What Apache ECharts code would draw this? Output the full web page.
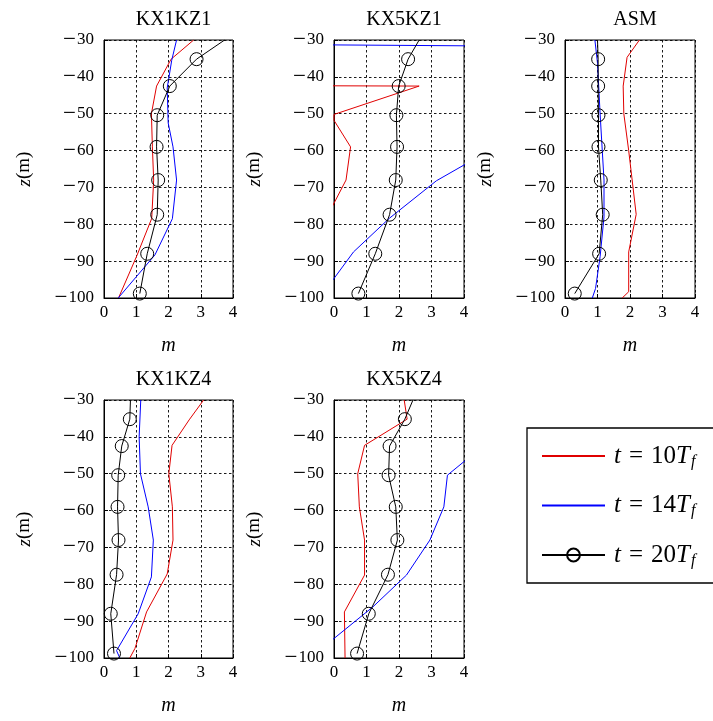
<!DOCTYPE html>
<html>
<head>
<meta charset="utf-8">
<script src="https://cdn.jsdelivr.net/npm/echarts@6/dist/echarts.min.js"></script>
<style>html,body{margin:0;padding:0;background:#fff}#c{width:713px;height:721px}</style>
</head>
<body>
<div id="c"></div>
<script>
// Panel titles
const panelTitles = ['KX1KZ1', 'KX5KZ1', 'ASM', 'KX1KZ4', 'KX5KZ4'];
const xTicks = [0, 1, 2, 3, 4];
const zTicks = [-100, -90, -80, -70, -60, -50, -40, -30];

// [m, z] pairs, t = 10 Tf
const kx1kz1_t10 = [[2.78,-30],[2.08,-35.2],[1.63,-42.5],[1.47,-50],[1.5,-59],[1.54,-68],[1.48,-78.4],[1.02,-88.5],[0.45,-100]];
const kx5kz1_t10 = [[-0.5,-30],[-0.5,-35],[-1,-42.4],[2.62,-42.5],[0,-50.2],[0,-51.8],[0.51,-59],[0.37,-68],[-0.19,-77.5],[-0.5,-88],[-0.5,-99]];
const asm_t10    = [[2.29,-30],[1.91,-34.7],[1.79,-42.5],[1.81,-50],[1.96,-60],[2.19,-77.3],[1.96,-87.5],[1.96,-98.3],[1.76,-100]];
const kx1kz4_t10 = [[3.09,-30],[2.64,-35.4],[2.11,-42.3],[2.01,-50],[2.12,-59],[2.14,-68],[1.96,-77.2],[1.32,-87.5],[0.96,-97.4],[0.8,-100]];
const kx5kz4_t10 = [[2.16,-30],[2.25,-35.2],[0.94,-42.3],[0.73,-50],[0.78,-59],[0.94,-68],[0.94,-77.5],[0.32,-87.5],[0.34,-100]];

// t = 14 Tf
const kx1kz1_t14 = [[2.25,-30],[2.1,-35.5],[1.96,-43],[1.99,-52.5],[2.14,-59],[2.25,-68],[2.12,-78.5],[1.58,-88.3],[0.44,-100]];
const kx5kz1_t14 = [[-0.5,-31.3],[6,-31.7],[4.5,-61.4],[3.15,-68.2],[1.7,-78.4],[0.6,-87.5],[0,-94.7],[-0.4,-99]];
const asm_t14    = [[0.92,-30],[1.0,-36.3],[1.08,-50],[1.2,-68],[1.2,-78],[1.08,-88.8],[0.94,-97.4],[0.84,-100]];
const kx1kz4_t14 = [[1.14,-30],[1.09,-40],[1.13,-50],[1.37,-59],[1.53,-68],[1.47,-78],[1.06,-88],[0.39,-98],[0.49,-100]];
const kx5kz4_t14 = [[4.5,-43.1],[3.49,-50.4],[3.38,-59],[2.95,-68],[2.23,-77.5],[1.2,-86.1],[0,-94.7],[-0.5,-98.3]];

// t = 20 Tf (first point = where the curve leaves the top edge, no marker)
const kx1kz1_t20 = [[3.74,-30],[2.87,-35.2],[2.04,-42.5],[1.65,-50.4],[1.63,-59],[1.68,-68],[1.65,-77.4],[1.34,-88],[1.11,-98.8]];
const kx5kz1_t20 = [[2.62,-30],[2.28,-35.2],[1.99,-42.5],[1.92,-50.4],[1.94,-59],[1.9,-68],[1.71,-77.4],[1.27,-88],[0.75,-98.8]];
const asm_t20    = [[1.0,-30],[1.02,-35.2],[1.02,-42.5],[1.03,-50.4],[1.03,-59],[1.1,-68],[1.16,-77.4],[1.05,-88],[0.3,-98.8]];
const kx1kz4_t20 = [[0.82,-30],[0.8,-35.2],[0.55,-42.5],[0.44,-50.4],[0.42,-59],[0.45,-68],[0.39,-77.4],[0.21,-88],[0.31,-98.8]];
const kx5kz4_t20 = [[2.43,-30],[2.18,-35.2],[1.71,-42.5],[1.68,-50.4],[1.9,-59],[1.95,-68],[1.66,-77.4],[1.07,-88],[0.71,-98.8]];

const t10 = [kx1kz1_t10, kx5kz1_t10, asm_t10, kx1kz4_t10, kx5kz4_t10];
const t14 = [kx1kz1_t14, kx5kz1_t14, asm_t14, kx1kz4_t14, kx5kz4_t14];
const t20 = [kx1kz1_t20, kx5kz1_t20, asm_t20, kx1kz4_t20, kx5kz4_t20];

const FONT = 'Liberation Serif';
const grids = [
  {left: 104, top: 40, width: 129, height: 258},
  {left: 334, top: 40, width: 130, height: 258},
  {left: 565, top: 40, width: 130, height: 258},
  {left: 104, top: 400, width: 129, height: 258},
  {left: 334, top: 400, width: 130, height: 258}
];

const chart = echarts.init(document.getElementById('c'), null, {renderer: 'canvas'});
const grid = [], xAxis = [], yAxis = [], series = [], title = [];
grids.forEach((g, i) => {
  grid.push(Object.assign({show: true, borderColor: '#000', borderWidth: 1, backgroundColor: 'transparent', containLabel: false}, g));
  title.push({text: panelTitles[i], left: g.left + g.width / 2, top: g.top - 35, textAlign: 'center',
    textStyle: {fontFamily: FONT, fontSize: 20, fontWeight: 'normal', color: '#000'}});
  xAxis.push({type: 'value', gridIndex: i, min: xTicks[0], max: xTicks[xTicks.length - 1], interval: 1,
    axisLine: {show: true, onZero: false, lineStyle: {color: '#000', width: 1}},
    axisTick: {show: true, inside: true, length: 4, lineStyle: {color: '#000'}},
    axisLabel: {fontFamily: FONT, fontSize: 17, color: '#000', margin: 6},
    splitLine: {show: true, lineStyle: {color: '#000', type: [2.5, 2.5], width: 0.9}},
    name: 'm', nameLocation: 'middle', nameGap: 38,
    nameTextStyle: {fontFamily: FONT, fontStyle: 'italic', fontSize: 20, color: '#000'}});
  yAxis.push({type: 'value', gridIndex: i, min: zTicks[0], max: zTicks[zTicks.length - 1], interval: 10,
    axisLine: {show: true, onZero: false, lineStyle: {color: '#000', width: 1}},
    axisTick: {show: true, inside: true, length: 4, lineStyle: {color: '#000'}},
    axisLabel: {fontFamily: FONT, fontSize: 17, color: '#000', margin: 10,
      formatter: v => (v < 0 ? '{m|\u2212}' + Math.abs(v) : String(v)),
      rich: {m: {fontFamily: FONT, fontSize: 23, color: '#000', padding: [0, 1, 0, 0]}}},
    splitLine: {show: true, lineStyle: {color: '#000', type: [2.5, 2.5], width: 0.9}},
    name: '{i|z}(m)', nameLocation: 'middle', nameGap: 70,
    nameTextStyle: {fontFamily: FONT, fontSize: 19, color: '#000',
      rich: {i: {fontFamily: FONT, fontStyle: 'italic', fontSize: 19, color: '#000'}}}});
  const base = {type: 'line', xAxisIndex: i, yAxisIndex: i, clip: true, animation: false, silent: true};
  series.push(Object.assign({}, base, {name: 't10', data: t10[i], showSymbol: false, symbol: 'none',
    lineStyle: {color: '#e00000', width: 1}, itemStyle: {color: '#e00000'}}));
  series.push(Object.assign({}, base, {name: 't14', data: t14[i], showSymbol: false, symbol: 'none',
    lineStyle: {color: '#0000ff', width: 1}, itemStyle: {color: '#0000ff'}}));
  series.push(Object.assign({}, base, {name: 't20',
    data: t20[i].map(p => (p[1] >= -30 ? {value: p, symbol: 'none'} : p)),
    symbol: 'circle', symbolSize: 13, showAllSymbol: true,
    lineStyle: {color: '#000', width: 1},
    itemStyle: {color: 'rgba(255,255,255,0)', borderColor: '#000', borderWidth: 1}}));
});

const legendText = {
  t10: '{i|t}{e|=}10{i|T}{s|f}',
  t14: '{i|t}{e|=}14{i|T}{s|f}',
  t20: '{i|t}{e|=}20{i|T}{s|f}'
};

chart.setOption({
  animation: false,
  title, grid, xAxis, yAxis, series,
  legend: {
    data: [
      {name: 't10', itemStyle: {opacity: 0}},
      {name: 't14', itemStyle: {opacity: 0}},
      {name: 't20'}
    ],
    orient: 'vertical', left: 527, top: 428,
    padding: [14, 40, 14, 14], itemGap: 21.5, itemWidth: 63, itemHeight: 16,
    borderColor: '#000', borderWidth: 1.3, backgroundColor: '#fff',
    selectedMode: false,
    formatter: n => legendText[n],
    textStyle: {fontFamily: FONT, fontSize: 25, color: '#000', lineHeight: 28, padding: [0, 0, 0, 4],
      rich: {
        i: {fontFamily: FONT, fontStyle: 'italic', fontSize: 25, color: '#000', lineHeight: 28},
        e: {fontFamily: FONT, fontSize: 25, color: '#000', lineHeight: 28, padding: [0, 8, 0, 8]},
        s: {fontFamily: FONT, fontStyle: 'italic', fontSize: 16, color: '#000', padding: [11, 0, 0, 1]}
      }}
  }
});
</script>
</body>
</html>
